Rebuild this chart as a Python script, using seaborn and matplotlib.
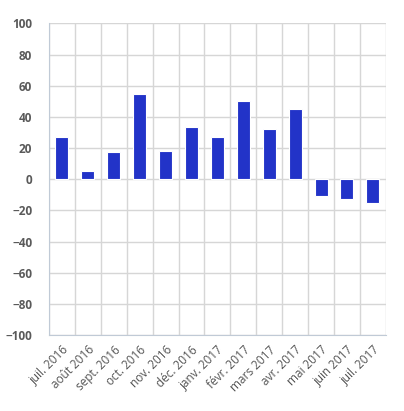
import matplotlib
matplotlib.use('Agg')
import matplotlib.pyplot as plt
import numpy as np
import pandas as pd
import seaborn as sns

months = ['juil. 2016', 'août 2016', 'sept. 2016', 'oct. 2016', 'nov. 2016',
          'déc. 2016', 'janv. 2017', 'févr. 2017', 'mars 2017', 'avr. 2017',
          'mai 2017', 'juin 2017', 'juil. 2017']
values = [27.4, 5.1, 17.2, 54.9, 17.9, 33.2, 26.8, 50.4, 32.5, 45.3, -10.8, -12.8, -15.3]
y_ticks = [-100, -80, -60, -40, -20, 0, 20, 40, 60, 80, 100]

df = pd.DataFrame({'month': months, 'value': values})

sns.set_style('white')
plt.rcParams['font.family'] = ['Open Sans', 'DejaVu Sans']

fig = plt.figure(figsize=(4.04, 4.11), dpi=100)
ax = fig.add_axes([0.1213, 0.185, 0.8337, 0.758])

sns.barplot(data=df, x='month', y='value', color='#2233C8', saturation=1,
            width=0.5, edgecolor='white', linewidth=0.8, ax=ax, zorder=3)

ax.set_xlim(-0.5, len(months) - 0.5)
ax.set_ylim(-100, 100)
ax.set_yticks(y_ticks)
ax.set_yticklabels([str(t).replace('-', '\u2212') for t in y_ticks],
                   fontsize=8.5, fontweight='bold', color='#5a5a5a')

# vertical grid lines sit between the categories
ax.set_xticks(np.arange(-0.5, len(months)), minor=True)
ax.grid(True, which='minor', axis='x', color='#d6d6d6', linewidth=1, zorder=0)
ax.grid(True, which='major', axis='y', color='#d6d6d6', linewidth=1, zorder=0)
ax.set_axisbelow(True)

ax.set_xticks(range(len(months)))
ax.set_xticklabels(months, rotation=45, ha='right', rotation_mode='anchor',
                   fontsize=8.5, color='#555555')
ax.tick_params(axis='both', which='both', length=0)
ax.tick_params(axis='x', pad=6)
ax.tick_params(axis='y', pad=12)

ax.set_xlabel('')
ax.set_ylabel('')
for side in ['top', 'right']:
    ax.spines[side].set_visible(False)
ax.spines['left'].set_color('#c0cad6')
ax.spines['bottom'].set_color('#c0cad6')

plt.savefig('out.png', dpi=100)
